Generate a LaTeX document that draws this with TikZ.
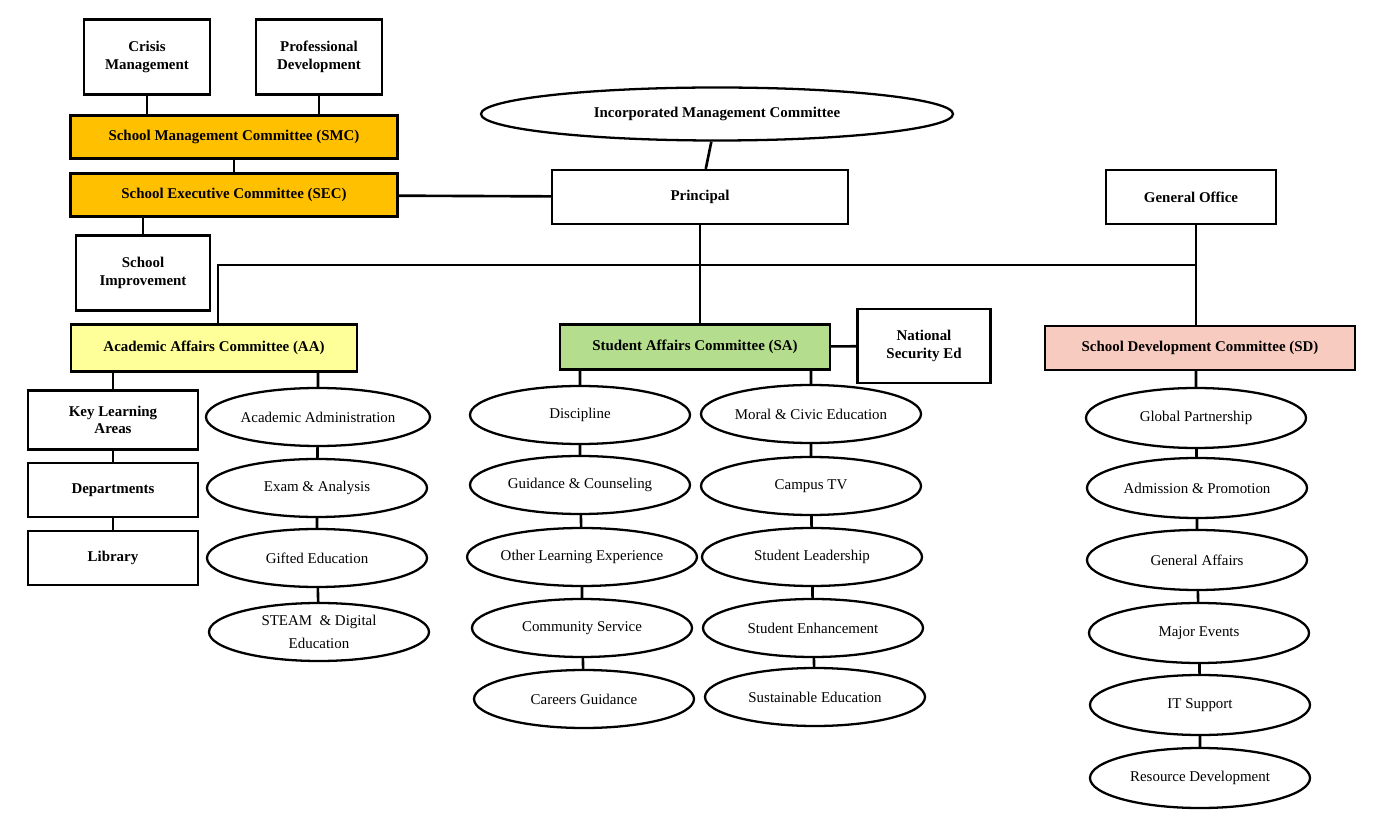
\documentclass[tikz,border=0pt]{standalone}
\usepackage{fontspec}
\setmainfont{Liberation Serif}
\usetikzlibrary{calc}
\definecolor{smcorange}{HTML}{FFC000}
\definecolor{aayellow}{HTML}{FFFF99}
\definecolor{sagreen}{HTML}{B4DE8E}
\definecolor{sdpink}{HTML}{F8CBC0}
\tikzstyle{Box}=[rectangle, draw=black, line width=1.3pt, align=center, font=\bfseries\fontsize{8.5}{10}\selectfont, inner sep=1pt]
\tikzstyle{Oval}=[ellipse, draw=black, line width=1.3pt, align=center, font=\fontsize{8.5}{10}\selectfont, inner sep=0pt, minimum width=220*0.02cm, minimum height=58*0.02cm]
\usetikzlibrary{shapes.geometric}

\begin{document}
\begin{tikzpicture}[x=0.02cm, y=-0.02cm, line width=1.5pt]
    \useasboundingbox (0,0) rectangle (1386,820);
    \path
    (147,57) node[Box, minimum width=126*0.02cm, minimum height=75*0.02cm] (crisis) {Crisis\\Management}
    (319,57) node[Box, minimum width=126*0.02cm, minimum height=75*0.02cm] (prof) {Professional\\Development}
    (234,137) node[Box, fill=smcorange, minimum width=327*0.02cm, minimum height=43*0.02cm] (smc) {School Management Committee (SMC)}
    (234,195) node[Box, fill=smcorange, minimum width=327*0.02cm, minimum height=43*0.02cm] (sec) {School Executive Committee (SEC)}
    (143,273) node[Box, minimum width=134*0.02cm, minimum height=75*0.02cm] (improve) {School\\Improvement}
    (717,114) node[Oval, font=\bfseries\fontsize{8.5}{10}\selectfont, minimum width=472*0.02cm, minimum height=53*0.02cm] (imc) {Incorporated Management Committee}
    (700,197) node[Box, minimum width=296*0.02cm, minimum height=54*0.02cm] (principal) {Principal}
    (1191,197) node[Box, minimum width=170*0.02cm, minimum height=54*0.02cm] (office) {General Office}
    (214,348) node[Box, fill=aayellow, minimum width=286*0.02cm, minimum height=47*0.02cm] (aa) {Academic Affairs Committee (AA)}
    (695,347) node[Box, fill=sagreen, minimum width=270*0.02cm, minimum height=45*0.02cm] (sa) {Student Affairs Committee (SA)}
    (924,346) node[Box, minimum width=133*0.02cm, minimum height=74*0.02cm] (nse) {National\\Security Ed}
    (1200,348) node[Box, fill=sdpink, minimum width=310*0.02cm, minimum height=44*0.02cm] (sd) {School Development Committee (SD)}
    (113,420) node[Box, minimum width=170*0.02cm, minimum height=59*0.02cm] (kla) {Key Learning\\Areas}
    (113,490) node[Box, minimum width=170*0.02cm, minimum height=54*0.02cm] (dept) {Departments}
    (113,558) node[Box, minimum width=170*0.02cm, minimum height=54*0.02cm] (lib) {Library};

    % academic affairs
    \path
    (318,417) node[Oval, minimum width=224*0.02cm] (aa1) {Academic Administration}
    (317,488) node[Oval] (aa2) {Exam \& Analysis}
    (317,558) node[Oval] (aa3) {Gifted Education}
    (319,632) node[Oval] (aa4) {STEAM \ \& Digital\\[3pt]Education};
    % student affairs
    \path
    (580,415) node[Oval] (sl1) {Discipline}
    (580,485) node[Oval] (sl2) {Guidance \& Counseling}
    (582,557) node[Oval] (sl3) {Other Learning Experience}
    (582,628) node[Oval] (sl4) {Community Service}
    (584,699) node[Oval] (sl5) {Careers Guidance}
    (811,414) node[Oval] (sr1) {Moral \& Civic Education}
    (811,486) node[Oval] (sr2) {Campus TV}
    (812,557) node[Oval] (sr3) {Student Leadership}
    (813,628) node[Oval] (sr4) {Student Enhancement}
    (815,697) node[Oval] (sr5) {Sustainable Education};
    % school development
    \path
    (1196,418) node[Oval, minimum width=220*0.02cm, minimum height=60*0.02cm] (sd1) {Global Partnership}
    (1197,488) node[Oval, minimum height=60*0.02cm] (sd2) {Admission \& Promotion}
    (1197,560) node[Oval, minimum height=60*0.02cm] (sd3) {General Affairs}
    (1199,633) node[Oval, minimum height=60*0.02cm] (sd4) {Major Events}
    (1200,705) node[Oval, minimum height=60*0.02cm] (sd5) {IT Support}
    (1200,778) node[Oval, minimum height=60*0.02cm] (sd6) {Resource Development};

    \coordinate (barL) at (218,265);
    \coordinate (barR) at (1196,265);

    \draw (crisis) -- (crisis |- smc.north);
    \draw (prof) -- (prof |- smc.north);
    \draw (smc) -- (sec);
    \draw (sec) -- (principal);
    \draw (sec.south -| improve) -- (improve);
    \draw (imc) -- (principal);
    \draw (principal.south) -- (principal.south |- sa.north);
    \draw (barL |- aa.north) -- (barL) -- (barR) -- (office.south -| barR);
    \draw (barR) -- (barR |- sd.north);
    \draw (sa) -- (nse);
    \draw (aa.south -| kla) -- (kla) -- (dept) -- (lib);
    \draw (aa.south -| aa1) -- (aa1) -- (aa2) -- (aa3) -- (aa4);
    \draw (sa.south -| sl1) -- (sl1) -- (sl2) -- (sl3) -- (sl4) -- (sl5);
    \draw (sa.south -| sr1) -- (sr1) -- (sr2) -- (sr3) -- (sr4) -- (sr5);
    \draw (sd.south -| sd1) -- (sd1) -- (sd2) -- (sd3) -- (sd4) -- (sd5) -- (sd6);
\end{tikzpicture}
\end{document}
